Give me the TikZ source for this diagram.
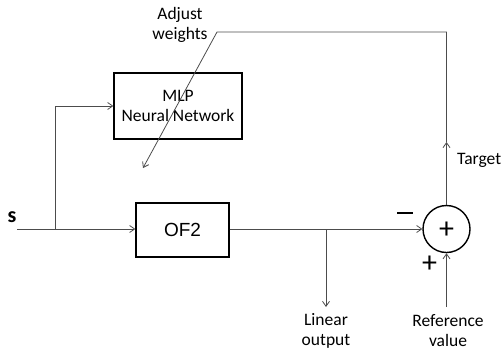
\documentclass[tikz,border=0pt]{standalone}
\usepackage{fontspec}
\setmainfont{Carlito}
\newfontfamily\arialfont{Liberation Sans}
\usetikzlibrary{arrows.meta}
\begin{document}
\begin{tikzpicture}[x=1pt,y=-1pt,
  wire/.style={draw=black!70, line width=0.8pt},
  flow/.style={wire, -{Straight Barb[length=5pt,width=7pt]}},
  blockbox/.style={draw=black, line width=1.4pt, align=center, inner sep=0pt},
  lbl/.style={align=center, font=\fontsize{17.5}{20}\selectfont, inner sep=0pt},
  sign/.style={font=\fontsize{30}{30}\selectfont, inner sep=0pt}]
\useasboundingbox (0,0) rectangle (503,351);

% blocks
\node[blockbox, minimum width=128pt, minimum height=66pt, font=\fontsize{17.5}{20}\selectfont] (mlp) at (178,106) {MLP\\Neural Network};
\node[blockbox, minimum width=93pt, minimum height=54pt, font=\arialfont\fontsize{19}{22}\selectfont] (of2) at (182.5,230) {OF2};
\node[draw=black, line width=1.4pt, circle, minimum size=47pt, inner sep=0pt] (sum) at (446.5,229) {};
\node[sign, font=\fontsize{30}{30}\selectfont] (sumsign) at (446.5,230) {+};

% labels
\node[lbl, font=\bfseries\fontsize{22}{22}\selectfont] (s) at (12,217) {s};
\node[lbl] (adj) at (180,25) {Adjust\\weights};
\node[lbl] (lintxt) at (326,331) {Linear\\output};
\node[lbl] (reftxt) at (448,331) {Reference\\value};
\node[lbl, anchor=west] (tgttxt) at (457,160) {Target};
\node[fill=black, minimum width=16pt, minimum height=1.6pt, inner sep=0pt] (minus) at (405,213) {};
\node[sign] (plus) at (429.5,264) {+};

% junction and end points
\coordinate (in) at (17,229);
\coordinate (split) at (55,229);
\coordinate (tap) at (326,229);
\coordinate (linend) at (326,307);
\coordinate (refin) at (446.5,307);
\coordinate (tgt) at (446.5,142);
\coordinate (top) at (446.5,32);
\coordinate (bend) at (217,32);
\coordinate (adjend) at (143,168);

% connections
\draw[flow] (in) -- (of2.west |- in);
\draw[flow] (split) |- (mlp.west);
\draw[flow] (of2.east |- in) -- (sum.west);
\draw[flow] (tap) -- (linend);
\draw[flow] (refin) -- (sum.south);
\draw[flow] (sum.north) -- (tgt);
\draw[flow] (tgt) -- (top) -- (bend) -- (adjend);
\end{tikzpicture}
\end{document}
